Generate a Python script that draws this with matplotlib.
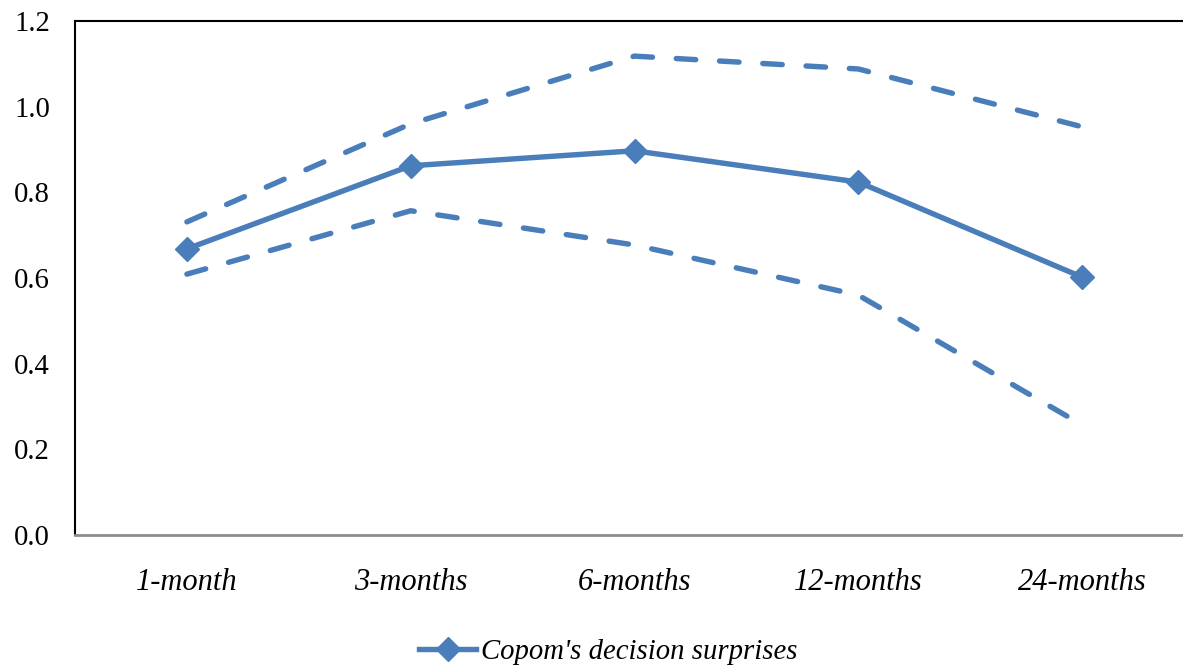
import matplotlib
matplotlib.use("Agg")
import matplotlib.pyplot as plt
from matplotlib.lines import Line2D

horizons = ["1-month", "3-months", "6-months", "12-months", "24-months"]
response = [0.668, 0.862, 0.897, 0.824, 0.602]
upper_band = [0.731, 0.960, 1.118, 1.088, 0.953]
lower_band = [0.609, 0.757, 0.677, 0.560, 0.257]
y_ticks = [0.0, 0.2, 0.4, 0.6, 0.8, 1.0, 1.2]

blue = "#4A7EBB"
serif = ["Liberation Serif", "DejaVu Serif"]
lw = 3.9

fig = plt.figure(figsize=(11.83, 6.67), dpi=100)
ax = fig.add_axes([75 / 1183, 132 / 667, 1119 / 1183, 514 / 667])

x = list(range(len(horizons)))
for band in (upper_band, lower_band):
    ax.plot(x, band, color=blue, lw=lw, dashes=(3.6, 4.4),
            dash_capstyle="round", solid_capstyle="round")
ax.plot(x, response, color=blue, lw=lw, marker="D", markersize=12,
        markerfacecolor=blue, markeredgecolor=blue,
        solid_capstyle="round", solid_joinstyle="round")

ax.set_xlim(-0.5, 4.5)
ax.set_ylim(0, 1.2)
ax.set_yticks(y_ticks)
ax.set_yticklabels([f"{v:.1f}" for v in y_ticks], family=serif, fontsize=20.7)
ax.set_xticks(x)
ax.set_xticklabels(horizons, family=serif, fontsize=22, style="italic")
ax.tick_params(axis="both", length=0)
ax.tick_params(axis="y", pad=18)
ax.tick_params(axis="x", pad=24)

ax.spines["right"].set_visible(False)
ax.spines["top"].set_color("black")
ax.spines["top"].set_linewidth(1.5)
ax.spines["left"].set_color("black")
ax.spines["left"].set_linewidth(1.5)
ax.spines["bottom"].set_color("#8c8c8c")
ax.spines["bottom"].set_linewidth(2)

handle = Line2D([], [], color=blue, lw=lw, marker="D", markersize=12)
fig.legend([handle], ["Copom's decision surprises"], loc="center",
           bbox_to_anchor=(608 / 1183, 1 - 652 / 667), frameon=False,
           prop={"family": serif, "size": 20.7, "style": "italic"},
           handlelength=2.0, handletextpad=0.15)

fig.savefig("out.png", dpi=100)
